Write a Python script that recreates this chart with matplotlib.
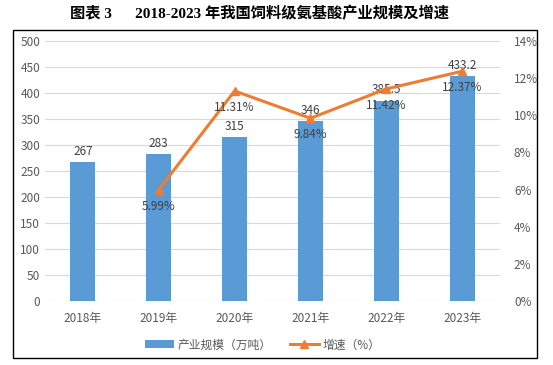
import matplotlib.pyplot as plt
import matplotlib.patches as mpatches
import numpy as np

plt.rcParams['font.family'] = ['Noto Sans CJK SC', 'DejaVu Sans']

# data
years = ['2018年', '2019年', '2020年', '2021年', '2022年', '2023年']
scale = [267, 283, 315, 346, 385.5, 433.2]
growth_years = ['2019年', '2020年', '2021年', '2022年', '2023年']
growth = [5.99, 11.31, 9.84, 11.42, 12.37]

bar_color = '#5B9BD5'
line_color = '#ED7D31'
text_color = '#595959'

fig = plt.figure(figsize=(5.53, 3.65), dpi=100)

# outer frame around the chart
fig.patches.append(mpatches.Rectangle((0.0235, 0.0192), 0.9476, 0.8986,
                                      transform=fig.transFigure, fill=False,
                                      edgecolor='black', linewidth=1.0))

fig.text(0.47, 0.962, '图表 3      2018-2023 年我国饲料级氨基酸产业规模及增速',
         ha='center', va='center', fontsize=11, fontweight='bold',
         family=['Liberation Serif', 'Noto Sans CJK SC'])

ax = fig.add_axes([0.0814, 0.1753, 0.8228, 0.7124])
x = np.arange(len(years))
bars = ax.bar(x, scale, width=0.33, color=bar_color, zorder=2, label='产业规模（万吨）')
ax.set_ylim(0, 500)
ax.set_yticks(range(0, 501, 50))
ax.set_xlim(-0.5, len(years) - 0.5)
ax.set_xticks(x)
ax.set_xticklabels(years)
ax.yaxis.grid(True, color='#D9D9D9', linewidth=0.8, zorder=0)
for s in ax.spines.values():
    s.set_visible(False)
ax.tick_params(length=0, colors=text_color, labelsize=8.5)
ax.tick_params(axis='x', pad=8)

for xi, v in zip(x, scale):
    ax.text(xi, v + 8, f'{v:g}', ha='center', va='bottom', fontsize=8.5, color='#404040')

ax2 = ax.twinx()
gx = [years.index(y) for y in growth_years]
ax2.plot(gx, growth, color=line_color, linewidth=2.2, marker='^', markersize=6,
         zorder=3, label='增速（%）')
ax2.set_ylim(0, 14)
ax2.set_yticks(range(0, 15, 2))
ax2.set_yticklabels([f'{t}%' for t in range(0, 15, 2)])
for s in ax2.spines.values():
    s.set_visible(False)
ax2.tick_params(length=0, colors=text_color, labelsize=8.5, pad=10)

for xi, g in zip(gx, growth):
    ax2.text(xi, g - 0.55, f'{g:.2f}%', ha='center', va='top', fontsize=8.5, color='#404040')

h1, l1 = ax.get_legend_handles_labels()
h2, l2 = ax2.get_legend_handles_labels()
fig.legend(h1 + h2, l1 + l2, loc='center', bbox_to_anchor=(0.475, 0.055), ncol=2,
           frameon=False, fontsize=8.5, labelcolor=text_color, handlelength=2.5,
           columnspacing=1.5, handletextpad=0.3)

fig.savefig('out.png', dpi=100)
